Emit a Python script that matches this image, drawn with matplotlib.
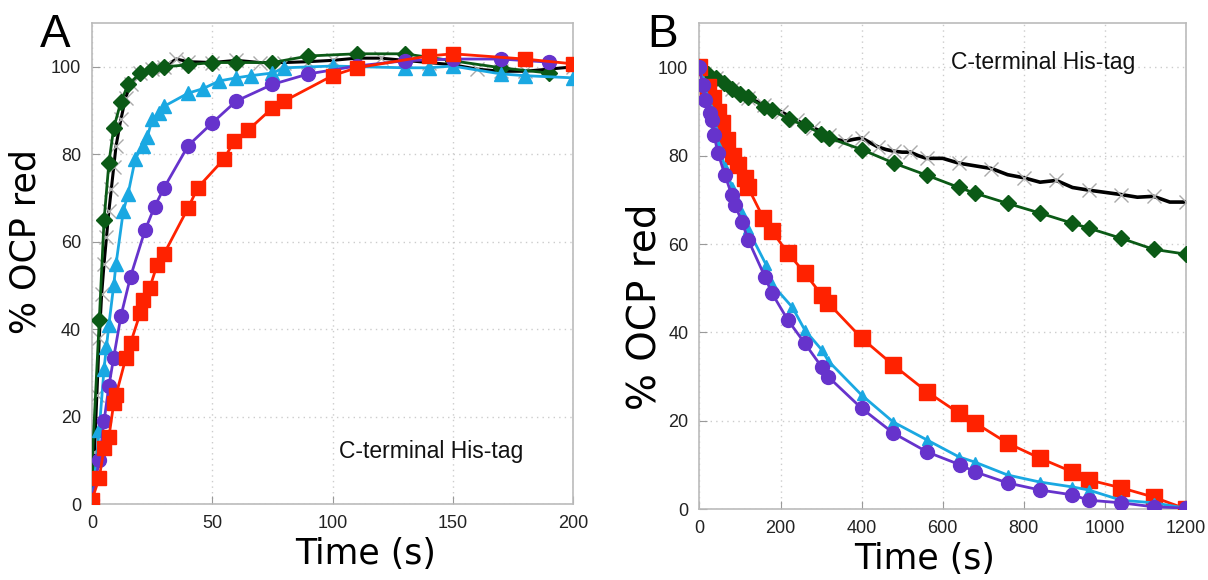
import matplotlib
matplotlib.use("Agg")
from matplotlib import pyplot as plt

# ---- panel A: activation (time in s, % OCP red) ----
a_red_t = [0, 3, 5, 7, 9, 10, 14, 16, 20, 21, 24, 27, 30, 40, 44, 55, 59, 65, 75, 80, 100, 110, 140, 150, 180, 200]
a_red_y = [1, 6, 12.8, 15.3, 23, 25, 33.3, 36.8, 43.6, 46.6, 49.5, 54.6, 57.3, 67.8, 72.4, 79, 83, 85.6, 90.6, 92.2, 98, 99.8, 102.5, 103, 101.8, 100.7]

a_purple_t = [0, 3, 5, 7, 9, 12, 16, 22, 26, 30, 40, 50, 60, 75, 90, 110, 130, 150, 170, 190]
a_purple_y = [1, 10, 19, 27, 33.5, 43, 52, 62.6, 68, 72.4, 82, 87.2, 92.2, 96, 98.4, 100.2, 101.4, 101.8, 101.8, 101.1]

a_cyan_t = [0, 3, 5, 6, 7, 9, 10, 13, 15, 18, 21, 23, 25, 28, 30, 40, 46, 53, 60, 66, 75, 80, 100, 130, 140, 150, 170, 180, 200]
a_cyan_y = [0, 17, 31, 36, 41, 50, 55, 67, 71, 79, 82, 84, 88, 89.5, 91, 94, 95, 96.8, 97.5, 98, 98.6, 99.8, 100.2, 99.8, 99.8, 100.2, 98.4, 98, 97.5]

a_green_t = [0, 3, 5, 7, 9, 12, 15, 20, 25, 30, 40, 50, 60, 75, 90, 110, 130, 150, 170, 190]
a_green_y = [9, 42, 65, 78, 86, 92, 96, 98.5, 99.5, 100, 100.5, 101, 101, 101, 102.5, 103, 103, 101.4, 99.8, 98.6]

a_black_t = [0, 1, 2, 3, 4, 5, 6, 7, 8, 9, 10, 12, 14, 16, 20, 25, 30, 35, 40, 50, 60, 70, 80, 90, 100, 110, 120, 130, 140, 150, 160, 170, 180, 190, 200]
a_black_y = [0, 12, 25, 38, 48, 55, 61, 67, 72, 77, 82, 88, 93, 96, 98.5, 99.5, 100, 101.8, 101.2, 101, 101.5, 101, 101, 101.2, 101.5, 102, 102, 101.5, 101, 100.5, 99.5, 99, 99, 99.5, 100]

# ---- panel B: recovery ----
b_red_t = [0, 20, 33, 45, 55, 67, 83, 95, 112, 120, 157, 178, 218, 260, 302, 318, 400, 478, 562, 640, 680, 760, 840, 920, 960, 1040, 1120, 1200]
b_red_y = [100, 95.5, 93, 89.8, 87.3, 83.5, 80, 77.8, 75, 72.8, 66, 63, 58, 53.4, 48.4, 46.6, 38.7, 32.6, 26.5, 21.7, 19.5, 14.9, 11.5, 8.4, 6.6, 4.8, 2.7, 0]

b_purple_t = [0, 8, 13, 26, 30, 36, 46, 63, 80, 88, 105, 120, 162, 178, 218, 260, 302, 318, 400, 478, 562, 643, 680, 760, 840, 920, 960, 1040, 1120, 1200]
b_purple_y = [100, 96, 92.5, 89.6, 88, 84.6, 80.5, 75.6, 71, 68.8, 65, 61, 52.5, 49, 42.8, 37.5, 32.1, 29.9, 22.8, 17.2, 12.9, 10, 8.4, 5.9, 4.3, 3.2, 2, 1.4, 0.5, 0.2]

b_cyan_t = [0, 8, 13, 26, 30, 36, 46, 63, 80, 88, 105, 120, 165, 178, 229, 260, 302, 318, 400, 478, 562, 640, 680, 760, 840, 920, 960, 1040, 1120, 1200]
b_cyan_y = [100, 97, 94, 91, 89.5, 86.5, 82.5, 77.5, 73, 70.8, 67, 63.3, 55.2, 51, 45.7, 40.5, 36, 33.5, 25.8, 19.7, 15.6, 11.8, 10.6, 7.7, 6.1, 5, 4.3, 2, 1.4, 0.2]

b_green_t = [0, 20, 40, 60, 80, 100, 120, 160, 180, 220, 260, 300, 320, 400, 480, 560, 640, 680, 760, 840, 920, 960, 1040, 1120, 1200]
b_green_y = [100, 98.6, 97.5, 96.4, 95.2, 94, 93.2, 91, 90.3, 88.2, 86.9, 85, 84, 81.4, 78.3, 75.6, 72.8, 71.5, 69.2, 67, 64.7, 63.6, 61.3, 58.8, 57.7]

b_black_t = [0, 20, 40, 60, 80, 100, 120, 140, 160, 180, 200, 220, 240, 260, 280, 300, 320, 340, 360, 380, 400, 420, 440, 460, 480, 500, 520, 540, 560, 600, 640, 680, 720, 760, 800, 840, 880, 920, 960, 1000, 1040, 1080, 1120, 1160, 1200]
b_black_y = [100, 98.5, 97.5, 96.2, 95, 94, 93, 92.3, 91.5, 90.5, 90, 89, 88, 87, 86.3, 85.5, 84.6, 83.6, 83.3, 83.7, 84, 83, 82, 81.4, 81, 80.8, 80.8, 80, 79.4, 79.4, 78.3, 77.7, 77.1, 75.7, 75, 74, 74.4, 72.8, 72.2, 71.7, 71.2, 70.6, 70.8, 69.5, 69.5]

RED = '#ff2200'
PURPLE = '#6633cc'
CYAN = '#1aa8e2'
GREEN = '#0b5a16'

plt.rcParams['font.family'] = ['Liberation Sans', 'DejaVu Sans']

fig = plt.figure(figsize=(12.08, 5.8), dpi=100)
axA = fig.add_axes([0.0762, 0.131, 0.3981, 0.829])
axB = fig.add_axes([0.579, 0.1224, 0.4028, 0.8376])


def style(ax):
    for s in ax.spines.values():
        s.set_color('#bbbbbb')
        s.set_linewidth(1.2)
    ax.tick_params(direction='in', length=6, color='#999999', labelsize=13,
                   labelcolor='#222222', pad=8)
    ax.grid(True, linestyle=(0, (1, 3)), color='#cccccc', linewidth=1)
    ax.set_axisbelow(True)


# panel A
style(axA)
axA.plot(a_black_t, a_black_y, color='black', lw=2.2, marker='x', ms=10, mec='#aaaaaa', mew=1, zorder=3)
axA.plot(a_green_t, a_green_y, color=GREEN, lw=2, marker='D', ms=8, zorder=4)
axA.plot(a_cyan_t, a_cyan_y, color=CYAN, lw=2, marker='^', ms=10, zorder=4)
axA.plot(a_purple_t, a_purple_y, color=PURPLE, lw=2, marker='o', ms=10, zorder=4)
axA.plot(a_red_t, a_red_y, color=RED, lw=2, marker='s', ms=10, zorder=4)
axA.set_xlim(0, 200)
axA.set_ylim(0, 110)
axA.set_xticks([0, 50, 100, 150, 200])
axA.set_yticks([0, 20, 40, 60, 80, 100])
axA.set_xlabel('Time (s)', fontsize=25, family='DejaVu Sans')
axA.xaxis.set_label_coords(0.568, -0.068)
axA.set_ylabel('% OCP red', fontsize=25, family='DejaVu Sans')
axA.yaxis.set_label_coords(-0.104, 0.545)
axA.text(141, 12, 'C-terminal His-tag', fontsize=16.5, ha='center', va='center', color='#111111')
fig.text(0.033, 1 - 47 / 580, 'A', fontsize=33, va='baseline', ha='left')

# panel B
style(axB)
axB.plot(b_black_t, b_black_y, color='black', lw=2.6, marker='x', ms=10, mec='#aaaaaa', mew=1, markevery=2, zorder=3)
axB.plot(b_green_t, b_green_y, color=GREEN, lw=2, marker='D', ms=8, zorder=4)
axB.plot(b_red_t, b_red_y, color=RED, lw=2, marker='s', ms=11, zorder=4)
axB.plot(b_cyan_t, b_cyan_y, color=CYAN, lw=2, marker='^', ms=7, zorder=4)
axB.plot(b_purple_t, b_purple_y, color=PURPLE, lw=2, marker='o', ms=10, zorder=5)
axB.set_xlim(0, 1200)
axB.set_ylim(0, 110)
axB.set_xticks([0, 200, 400, 600, 800, 1000, 1200])
axB.set_yticks([0, 20, 40, 60, 80, 100])
axB.set_xlabel('Time (s)', fontsize=25, family='DejaVu Sans')
axB.xaxis.set_label_coords(0.4635, -0.068)
axB.set_ylabel('% OCP red', fontsize=28, family='DejaVu Sans')
axB.yaxis.set_label_coords(-0.073, 0.416)
axB.text(848, 101, 'C-terminal His-tag', fontsize=16.5, ha='center', va='center', color='#111111')
fig.text(0.536, 1 - 47 / 580, 'B', fontsize=33, va='baseline', ha='left')

fig.savefig('out.png', dpi=100)
